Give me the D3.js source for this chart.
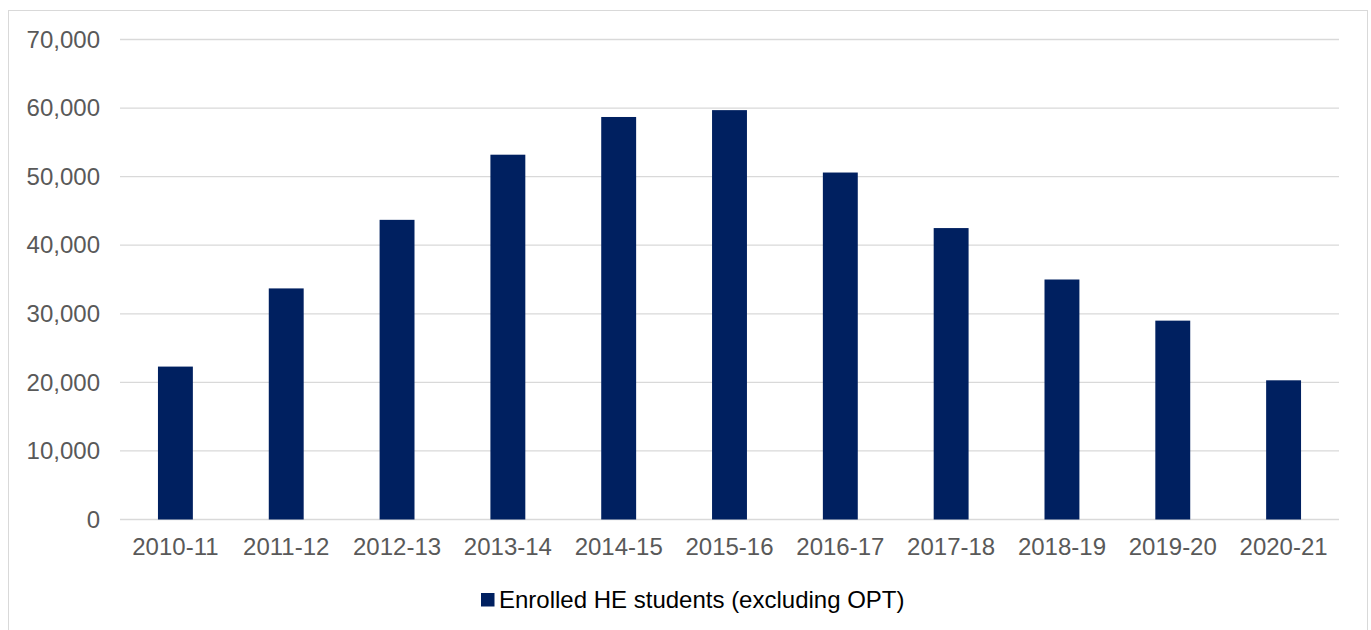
<!DOCTYPE html>
<html>
<head>
<meta charset="utf-8">
<script src="https://cdn.jsdelivr.net/npm/d3@7"></script>
<style>
  html, body { margin: 0; padding: 0; background: #fff; }
  svg { display: block; }
</style>
</head>
<body>
<svg id="chart" width="1371" height="630"></svg>
<script>
// Academic years shown on the x axis
const years = ["2010-11", "2011-12", "2012-13", "2013-14", "2014-15", "2015-16",
               "2016-17", "2017-18", "2018-19", "2019-20", "2020-21"];
// Enrolled HE students (excluding OPT), per year
const students = [22300, 33700, 43700, 53200, 58700, 59700,
                  50600, 42500, 35000, 29000, 20300];
const yTicks = [0, 10000, 20000, 30000, 40000, 50000, 60000, 70000];
const seriesName = "Enrolled HE students (excluding OPT)";

const svg = d3.select("#chart");
const font = "'Liberation Sans', Arial, sans-serif";
const fontSize = "24px";
const plot = { left: 120, right: 1339, top: 39.5, bottom: 519.5 };

// Outer frame of the chart area
svg.append("rect")
  .attr("x", 8.5).attr("y", 10.5)
  .attr("width", 1359).attr("height", 640)
  .attr("fill", "#fff").attr("stroke", "#d9d9d9").attr("stroke-width", 1);

const x = d3.scaleBand()
  .domain(years)
  .range([plot.left, plot.right])
  .paddingInner(0.685)
  .paddingOuter(0.3425);

const y = d3.scaleLinear()
  .domain([0, 70000])
  .range([plot.bottom, plot.top]);

// Horizontal gridlines
svg.append("g")
  .selectAll("line")
  .data(yTicks)
  .join("line")
  .attr("x1", plot.left).attr("x2", plot.right)
  .attr("y1", d => y(d)).attr("y2", d => y(d))
  .attr("stroke", "#d9d9d9").attr("stroke-width", 1.3);

// Y axis labels
const yAxis = d3.axisLeft(y)
  .tickValues(yTicks)
  .tickFormat(d3.format(","))
  .tickSize(0)
  .tickPadding(20);
const gy = svg.append("g").attr("transform", `translate(${plot.left},0)`).call(yAxis);
gy.select(".domain").remove();
gy.selectAll("text")
  .attr("fill", "#595959")
  .style("font-family", font)
  .style("font-size", fontSize);

// Bars
svg.append("g")
  .selectAll("rect")
  .data(years.map((yr, i) => ({ yr, v: students[i] })))
  .join("rect")
  .attr("x", d => x(d.yr))
  .attr("width", x.bandwidth())
  .attr("y", d => y(d.v))
  .attr("height", d => y(0) - y(d.v))
  .attr("fill", "#002060");

// X axis labels
const xAxis = d3.axisBottom(x).tickSize(0).tickPadding(18);
const gx = svg.append("g").attr("transform", `translate(0,${plot.bottom})`).call(xAxis);
gx.select(".domain").remove();
gx.selectAll("text")
  .attr("fill", "#595959")
  .style("font-family", font)
  .style("font-size", fontSize);

// Legend
const legend = svg.append("g").attr("transform", "translate(481,593)");
legend.append("rect")
  .attr("width", 13.5).attr("height", 13.5)
  .attr("fill", "#002060");
legend.append("text")
  .attr("x", 18).attr("y", 14.5)
  .attr("fill", "#000")
  .style("font-family", font)
  .style("font-size", fontSize)
  .text(seriesName);
</script>
</body>
</html>
